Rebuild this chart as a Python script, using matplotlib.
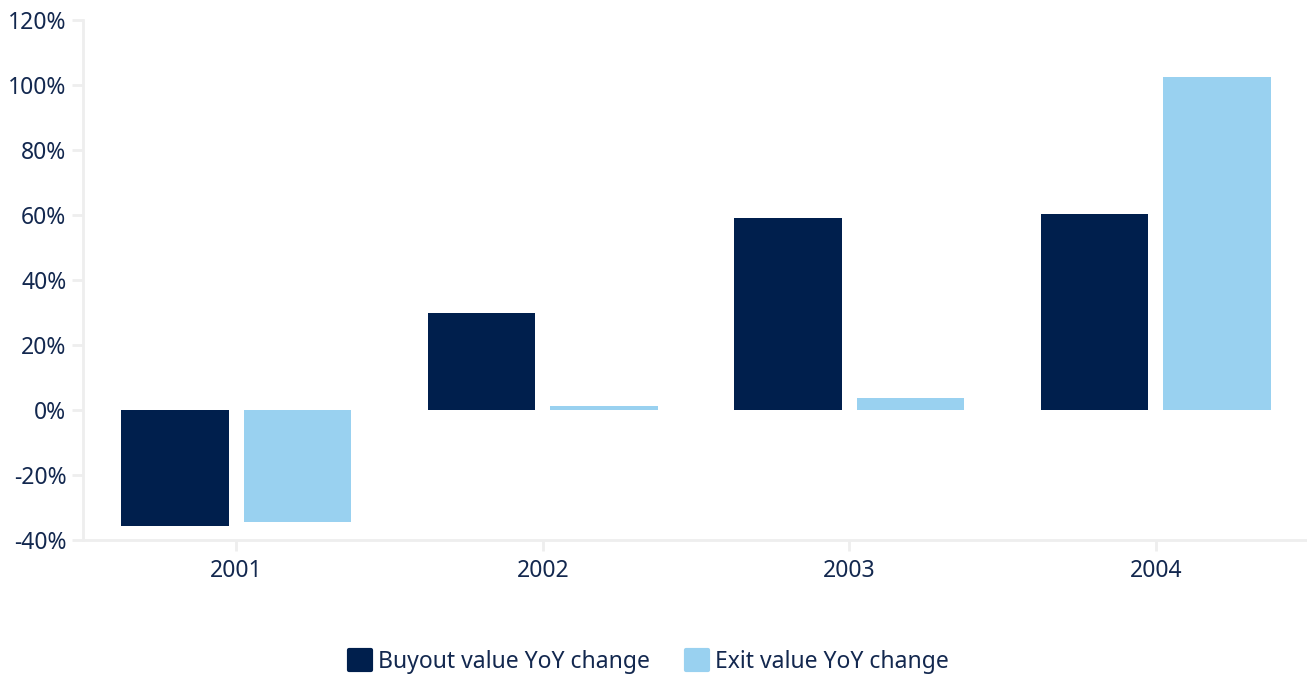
import matplotlib
matplotlib.use("Agg")
import matplotlib.pyplot as plt
import numpy as np
from matplotlib.ticker import FuncFormatter

plt.rcParams['font.family'] = ['Noto Sans', 'DejaVu Sans']

years = ["2001", "2002", "2003", "2004"]
buyout_yoy = [-35.6, 30.0, 59.2, 60.4]
exit_yoy = [-34.6, 1.2, 3.6, 102.6]

NAVY = "#001f4d"
LIGHT = "#99d1f0"
TEXT = "#13284f"
GRID = "#eeeeee"

fig = plt.figure(figsize=(13.07, 6.75), dpi=100)
ax = fig.add_axes([83 / 1307, 1 - 540 / 675, (1309 - 83) / 1307, 520 / 675])

x = np.arange(len(years))
w = 0.35
ax.bar(x - 0.2, buyout_yoy, width=w, color=NAVY, label="Buyout value YoY change")
ax.bar(x + 0.2, exit_yoy, width=w, color=LIGHT, label="Exit value YoY change")

ax.set_xlim(-0.5, 3.5)
ax.set_ylim(-40, 120)
ax.set_yticks(np.arange(-40, 121, 20))
ax.yaxis.set_major_formatter(FuncFormatter(lambda v, p: f"{v:.0f}%"))
ax.set_xticks(x)
ax.set_xticklabels(years)

for s in ["top", "right"]:
    ax.spines[s].set_visible(False)
for s in ["left", "bottom"]:
    ax.spines[s].set_color(GRID)
    ax.spines[s].set_linewidth(2)
ax.tick_params(axis="both", colors=GRID, width=2, length=8, labelsize=16.5,
               labelcolor=TEXT)
ax.tick_params(axis="y", pad=4)
ax.tick_params(axis="x", pad=6)

# legend centred under the plot
leg = fig.legend(loc="center", bbox_to_anchor=(649 / 1307, 1 - 662 / 675), ncol=2,
                 frameon=False, fontsize=16.5, handlelength=0.95, handleheight=0.95,
                 handletextpad=0.3, columnspacing=1.6)
for t in leg.get_texts():
    t.set_color(TEXT)
for h in leg.legend_handles:
    h.set_joinstyle("round")
    h.set_linewidth(3)
    h.set_edgecolor(h.get_facecolor())

fig.savefig("out.png", dpi=100)
